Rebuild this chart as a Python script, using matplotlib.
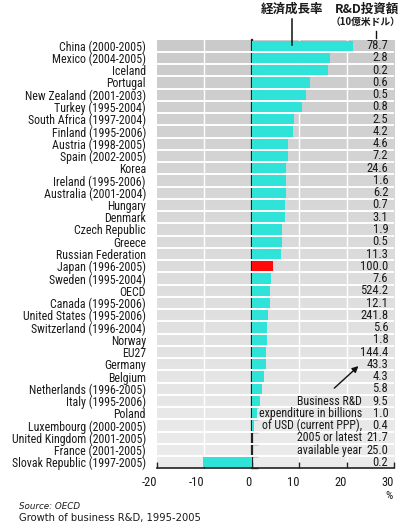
import numpy as np
import matplotlib
matplotlib.use("Agg")
import matplotlib.pyplot as plt
import matplotlib.transforms as mtrans
from matplotlib.colors import LinearSegmentedColormap
from matplotlib.lines import Line2D

countries = [
    "China (2000-2005)", "Mexico (2004-2005)", "Iceland", "Portugal",
    "New Zealand (2001-2003)", "Turkey (1995-2004)", "South Africa (1997-2004)",
    "Finland (1995-2006)", "Austria (1998-2005)", "Spain (2002-2005)", "Korea",
    "Ireland (1995-2006)", "Australia (2001-2004)", "Hungary", "Denmark",
    "Czech Republic", "Greece", "Russian Federation", "Japan (1996-2005)",
    "Sweden (1995-2004)", "OECD", "Canada (1995-2006)", "United States (1995-2006)",
    "Switzerland (1996-2004)", "Norway", "EU27", "Germany", "Belgium",
    "Netherlands (1996-2005)", "Italy (1995-2006)", "Poland",
    "Luxembourg (2000-2005)", "United Kingdom (2001-2005)", "France (2001-2005)",
    "Slovak Republic (1997-2005)",
]
growth = [21.4, 16.4, 16.1, 12.3, 11.5, 10.6, 8.9, 8.7, 7.6, 7.6, 7.2, 7.2, 7.2,
          6.9, 6.9, 6.4, 6.4, 6.2, 4.5, 4.0, 3.9, 3.8, 3.5, 3.2, 3.2, 3.1, 2.9,
          2.5, 2.2, 1.8, 1.2, 0.4, 0.0, 0.0, -10.3]
rd_spend = ["78.7", "2.8", "0.2", "0.6", "0.5", "0.8", "2.5", "4.2", "4.6", "7.2",
            "24.6", "1.6", "6.2", "0.7", "3.1", "1.9", "0.5", "11.3", "100.0", "7.6",
            "524.2", "12.1", "241.8", "5.6", "1.8", "144.4", "43.3", "4.3", "5.8",
            "9.5", "1.0", "0.4", "21.7", "25.0", "0.2"]
highlight = "Japan (1996-2005)"
xticks = [-20, -10, 0, 10, 20, 30]
note_lines = ["Business R&D", "expenditure in billions", "of USD (current PPP),",
              "2005 or latest", "available year"]

NARROW = ["Roboto Condensed", "DejaVu Sans"]
CJK = ["Noto Sans CJK JP", "DejaVu Sans"]
TXT = "#1a1a1a"
TURQ = "#30e3d8"
FS = 8.6

W, H = 400, 525
fig = plt.figure(figsize=(W / 100, H / 100), dpi=100)
fig.patch.set_facecolor("white")

def fx(px):
    return px / W

def fy(py):
    return 1 - py / H

ax = fig.add_axes([fx(157), fy(468.4), fx(394) - fx(157), fy(39.6) - fy(468.4)])
n = len(countries)
y = np.arange(n)

# gradient background
cmap = LinearSegmentedColormap.from_list("bg", ["#cacaca", "#ececec"])
ax.imshow(np.linspace(0, 1, 200)[:, None], cmap=cmap, aspect="auto",
          extent=(-20, 30, n - 0.5, -0.5), zorder=0, interpolation="bilinear")

# row separators and vertical grid
for b in np.arange(n - 1) + 0.5:
    ax.axhline(b, color="white", lw=1.4, zorder=1)
for g in [-10, 10, 20]:
    ax.axvline(g, color="white", lw=1.0, zorder=1)

colors = ["#ff0a0a" if c == highlight else TURQ for c in countries]
ax.barh(y, growth, height=0.82, color=colors, zorder=2)

ax.set_xlim(-20, 30)
ax.set_ylim(n - 0.5, -0.5)

# zero axis with small ticks at row boundaries
sec = ax.secondary_yaxis(0.4)
sec.set_yticks(np.arange(n) + 0.5)
sec.tick_params(direction="in", length=4, width=1, color="#333333", labelleft=False,
                labelright=False)
sec.spines["left"].set_linewidth(1.6)
sec.spines["left"].set_color("#222222")
sec.spines["left"].set_zorder(3)

ax.set_yticks(y)
ax.set_yticklabels(countries, fontfamily=NARROW, fontsize=FS, color=TXT)
ax.tick_params(axis="y", length=0, pad=8)

ax.set_xticks(xticks)
ax.set_xticklabels([str(t) for t in xticks], fontfamily=NARROW, fontsize=FS + 0.4,
                   color=TXT, ha="right")
ax.tick_params(axis="x", direction="in", length=4, width=1, color="#222222", pad=5.5)
for s in ["top", "right", "left"]:
    ax.spines[s].set_visible(False)
ax.spines["bottom"].set_color("#222222")
ax.spines["bottom"].set_linewidth(1.2)
ax.spines["bottom"].set_zorder(4)

# value column
tr = mtrans.blended_transform_factory(ax.transAxes, ax.transData)
for yi, v in zip(y, rd_spend):
    ax.text(0.976, yi, v, transform=tr, ha="right", va="center",
            fontfamily=NARROW, fontsize=FS + 0.4, color=TXT, zorder=5)

# note text
for k, line in enumerate(note_lines):
    ax.text(0.866, 29 + k, line, transform=tr, ha="right", va="center",
            fontfamily=NARROW, fontsize=FS, color=TXT, zorder=5)
ax.annotate("", xy=(22.5, 26.15), xytext=(17.4, 27.95),
            arrowprops=dict(arrowstyle="-|>", color="#111111", lw=1.0,
                            mutation_scale=9, shrinkA=0, shrinkB=0), zorder=6)

# headers
fig.text(fx(292), fy(9), "経済成長率", ha="center", va="center", fontfamily=CJK,
         fontsize=9, fontweight="bold", color=TXT)
fig.text(fx(367), fy(9), "R&D投資額", ha="center", va="center", fontfamily=CJK,
         fontsize=9, fontweight="bold", color=TXT)
fig.text(fx(366), fy(22.5), "（10億米ドル）", ha="center", va="center", fontfamily=CJK,
         fontsize=7, fontweight="bold", color=TXT)
fig.add_artist(Line2D([fx(292.3), fx(292.3)], [fy(19), fy(45)], color="#111111", lw=1.1))
fig.add_artist(Line2D([fx(375.7), fx(375.7)], [fy(31), fy(37.5)], color="#111111", lw=1.0))

fig.text(fx(389), fy(496), "%", ha="center", va="center", fontfamily=NARROW,
         fontsize=FS - 0.4, color=TXT)

fig.text(fx(19), fy(506.5), "Source: OECD", ha="left", va="center",
         fontfamily="DejaVu Sans", fontstyle="italic", fontsize=6.3, color=TXT)
fig.text(fx(19), fy(517.7), "Growth of business R&D, 1995-2005", ha="left",
         va="center", fontfamily="DejaVu Sans", fontsize=7.2, color=TXT)

fig.savefig("out.png", dpi=100)
